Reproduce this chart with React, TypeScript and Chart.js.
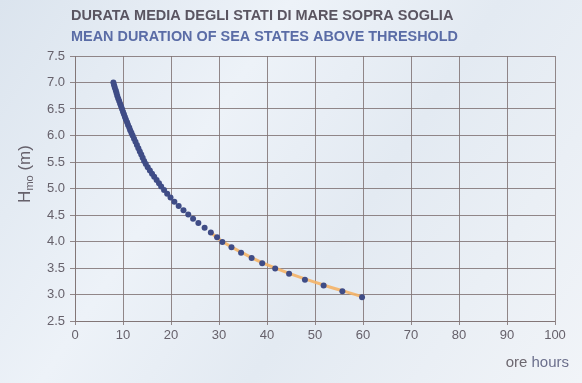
import React, { useEffect, useRef } from "react";
import { Chart, registerables } from "chart.js";

Chart.register(...registerables);

const titleIt = "DURATA MEDIA DEGLI STATI DI MARE SOPRA SOGLIA";
const titleEn = "MEAN DURATION OF SEA STATES ABOVE THRESHOLD";
const xUnitIt = "ore ";
const xUnitEn = "hours";

const xTicks = [0, 10, 20, 30, 40, 50, 60, 70, 80, 90, 100];
const yTicks = [2.5, 3.0, 3.5, 4.0, 4.5, 5.0, 5.5, 6.0, 6.5, 7.0, 7.5];

// mean duration (hours) for each wave height threshold (m)
const durationHours = [
  8.0, 8.15, 8.3, 8.5, 8.65, 8.8, 9.0, 9.2, 9.4, 9.6, 9.8, 10.0, 10.2, 10.4, 10.6,
  10.85, 11.05, 11.3, 11.5, 11.75, 12.0, 12.3, 12.6, 12.9, 13.2, 13.5, 13.8, 14.1,
  14.4, 14.75, 15.15, 15.6, 16.05, 16.5, 17.0, 17.5, 17.95, 18.55, 19.2, 19.9, 20.7,
  21.6, 22.6, 23.6, 24.6, 25.7, 27.0, 28.3, 29.6, 30.7, 32.6, 34.6, 36.8, 39.0, 41.7,
  44.6, 47.9, 51.8, 55.7, 59.8,
];
const waveHeight = [
  7.0, 6.95, 6.9, 6.85, 6.8, 6.75, 6.7, 6.65, 6.6, 6.55, 6.5, 6.45, 6.4, 6.35, 6.3,
  6.25, 6.2, 6.15, 6.1, 6.05, 6.0, 5.94, 5.88, 5.82, 5.76, 5.7, 5.64, 5.58,
  5.52, 5.46, 5.4, 5.34, 5.28, 5.22, 5.16, 5.1, 5.04, 4.97, 4.9, 4.83, 4.75,
  4.67, 4.59, 4.51, 4.43, 4.35, 4.26, 4.17, 4.08, 3.99, 3.89, 3.79, 3.69, 3.59, 3.49,
  3.39, 3.28, 3.17, 3.06, 2.95,
];

// fitted curve (orange)
const fitHours = [28.0, 30.7, 34.6, 39.0, 44.6, 51.8, 59.8];
const fitHeight = [4.19, 4.0, 3.8, 3.6, 3.4, 3.18, 2.96];

const FONT = "'Liberation Sans', Arial, Helvetica, sans-serif";
const GRID = "rgba(128,115,116,0.85)";
const TEXT = "#66616b";

const bgPlugin = {
  id: "bgPlugin",
  beforeDraw(chart: any) {
    const { ctx, width, height } = chart;
    ctx.save();
    const g = ctx.createLinearGradient(0, 0, width, height);
    g.addColorStop(0, "#dbe4ee");
    g.addColorStop(0.35, "#edf2f8");
    g.addColorStop(0.6, "#e3eaf2");
    g.addColorStop(1, "#f1f4f8");
    ctx.fillStyle = g;
    ctx.fillRect(0, 0, width, height);
    ctx.restore();
  },
};

const textPlugin = {
  id: "textPlugin",
  afterDraw(chart: any) {
    const { ctx } = chart;
    ctx.save();
    ctx.textBaseline = "alphabetic";
    ctx.textAlign = "left";
    ctx.font = `bold 14.5px ${FONT}`;
    ctx.fillStyle = "#5a5561";
    ctx.fillText(titleIt, 71, 20, 386);
    ctx.fillStyle = "#5a6ca6";
    ctx.fillText(titleEn, 71, 41, 387);

    // x unit label
    ctx.font = `15px ${FONT}`;
    const wEn = ctx.measureText(xUnitEn).width;
    const wIt = ctx.measureText(xUnitIt).width;
    const right = 569;
    ctx.fillStyle = "#6d6870";
    ctx.fillText(xUnitIt, right - wEn - wIt, 367);
    ctx.fillStyle = "#6b6f8c";
    ctx.fillText(xUnitEn, right - wEn, 367);

    // y title with subscript, rotated
    ctx.translate(30, 174);
    ctx.rotate(-Math.PI / 2);
    ctx.fillStyle = TEXT;
    ctx.font = `17px ${FONT}`;
    const wH = ctx.measureText("H").width;
    ctx.font = `11px ${FONT}`;
    const wSub = ctx.measureText("mo").width;
    ctx.font = `17px ${FONT}`;
    const wRest = ctx.measureText(" (m)").width;
    const total = wH + wSub + wRest;
    let x = -total / 2;
    ctx.fillText("H", x, 0);
    x += wH;
    ctx.font = `11px ${FONT}`;
    ctx.fillText("mo", x, 3);
    x += wSub;
    ctx.font = `17px ${FONT}`;
    ctx.fillText(" (m)", x, 0);
    ctx.restore();
  },
};

export default function App() {
  const ref = useRef<HTMLCanvasElement>(null);

  useEffect(() => {
    document.body.style.margin = "0";
    const canvas = ref.current;
    if (!canvas) return;
    const chart = new Chart(canvas, {
      type: "scatter",
      data: {
        datasets: [
          {
            label: "durata",
            data: durationHours.map((h, i) => ({ x: h, y: waveHeight[i] })),
            showLine: false,
            pointRadius: 3,
            pointHoverRadius: 3,
            pointBackgroundColor: "#3f4c86",
            pointBorderWidth: 0,
            order: 1,
          },
          {
            label: "fit",
            data: fitHours.map((h, i) => ({ x: h, y: fitHeight[i] })),
            showLine: true,
            borderColor: "rgba(244,178,102,0.9)",
            borderWidth: 3,
            pointRadius: 0,
            tension: 0.4,
            order: 2,
          },
        ],
      },
      options: {
        animation: false,
        responsive: false,
        devicePixelRatio: 1,
        layout: { padding: { top: 56, right: 27, bottom: 0, left: 0 } },
        plugins: {
          legend: { display: false },
          tooltip: { enabled: false },
          title: { display: false },
        },
        scales: {
          x: {
            type: "linear",
            min: 0,
            max: 100,
            afterFit: (s: any) => {
              s.height = 62;
            },
            afterBuildTicks: (s: any) => {
              s.ticks = xTicks.map((v) => ({ value: v }));
            },
            ticks: {
              color: TEXT,
              font: { family: FONT, size: 13 },
              padding: 3,
              maxRotation: 0,
              callback: (v: any) => String(v),
            },
            grid: { color: GRID, lineWidth: 1, tickLength: 4, drawTicks: true },
            border: { color: GRID, width: 1 },
          },
          y: {
            type: "linear",
            min: 2.5,
            max: 7.5,
            afterFit: (s: any) => {
              s.width = 75;
            },
            afterBuildTicks: (s: any) => {
              s.ticks = yTicks.map((v) => ({ value: v }));
            },
            ticks: {
              color: TEXT,
              font: { family: FONT, size: 13 },
              padding: 5,
              callback: (v: any) => Number(v).toFixed(1),
            },
            grid: { color: GRID, lineWidth: 1, tickLength: 5, drawTicks: true },
            border: { color: GRID, width: 1 },
          },
        },
      },
      plugins: [bgPlugin, textPlugin],
    });
    return () => chart.destroy();
  }, []);

  return <canvas ref={ref} width={582} height={383} style={{ display: "block" }} />;
}
